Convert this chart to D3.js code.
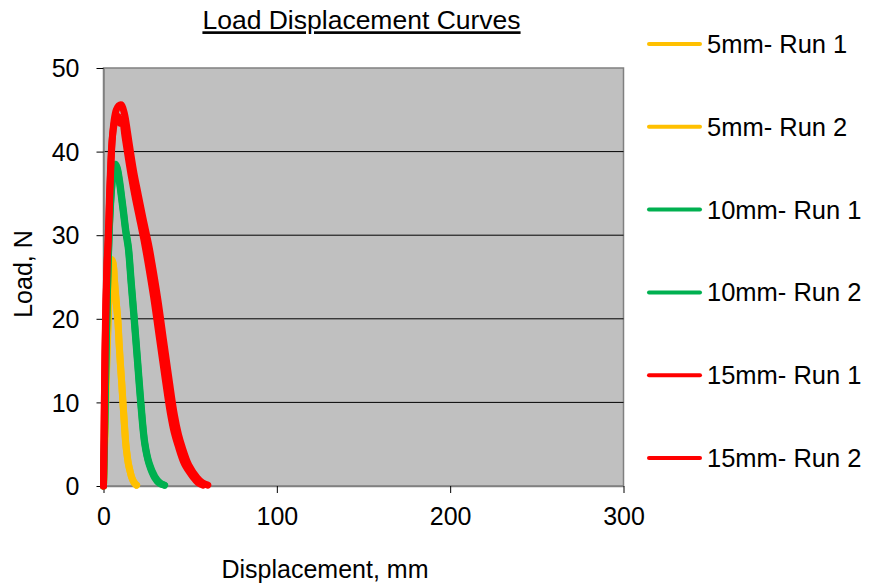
<!DOCTYPE html>
<html>
<head>
<meta charset="utf-8">
<script src="https://cdn.jsdelivr.net/npm/d3@7"></script>
<style>
  html, body { margin: 0; padding: 0; background: #fff; }
  svg text { font-family: "Liberation Sans", Arial, sans-serif; fill: #000; }
</style>
</head>
<body>
<svg id="chart" width="871" height="588"></svg>
<script>
// Load (N) against displacement (mm) for each specimen size and run
const disp5Run1 = [0, 1, 2, 3, 3.8, 4.6, 5.4, 6.3, 7.2, 8.2, 9, 9.7, 10.5, 11.2, 12, 12.8, 13.6, 14.3, 15.3, 16.2, 17.5, 19];
const load5Run1 = [0, 8, 16, 22, 25.5, 27.1, 26.8, 24.6, 22.3, 20, 17, 14.7, 12.3, 10, 7.5, 5.1, 3.7, 2.7, 1.8, 1.1, 0.5, 0.1];
const disp5Run2 = [0, 1, 2, 3, 3.9, 4.7, 5.5, 6.4, 7.3, 8.3, 9.1, 9.8, 10.6, 11.3, 12.1, 12.9, 13.7, 14.4, 15.4, 16.3, 17.6, 19.1];
const load5Run2 = [0, 7.5, 15.5, 21.5, 25.2, 26.9, 26.6, 24.4, 22.1, 19.8, 16.8, 14.5, 12.1, 9.8, 7.3, 5, 3.6, 2.6, 1.7, 1, 0.4, 0.1];

const disp10Run1 = [0, 0.8, 1.6, 2.6, 3.6, 4.8, 6, 7, 8, 9.3, 10.5, 11.6, 12.9, 14.4, 16, 17.8, 19.7, 21.6, 23.9, 26.4, 29.7, 32.5, 35.3];
const load10Run1 = [0, 8, 17, 26, 32, 36, 38.2, 38.5, 38, 36.5, 34.6, 32.8, 30.6, 28.6, 24.5, 20, 15, 10, 5.1, 2.7, 1.1, 0.4, 0.1];
const disp10Run2 = [0, 0.8, 1.6, 2.6, 3.6, 4.8, 6, 7, 8, 9.2, 10.4, 11.5, 12.8, 14.3, 15.9, 17.7, 19.6, 21.5, 23.8, 26.3, 29.5, 32.3, 35];
const load10Run2 = [0, 7.8, 16.8, 25.7, 31.7, 35.8, 38, 38.3, 37.8, 36.3, 34.4, 32.6, 30.4, 28.4, 24.3, 19.8, 14.8, 9.8, 5, 2.6, 1, 0.3, 0.1];

const disp15Run1 = [0, 0.4, 0.9, 1.5, 2.2, 2.9, 3.7, 4.4, 5.1, 6.1, 7.4, 8.8, 10.2, 12, 13.8, 15.7, 17.6, 20.1, 22.6, 26.3, 28, 31.3, 34.8, 38, 40.9, 43.2, 45.3, 49.2, 54, 57, 60.2];
const load15Run1 = [0, 8, 16, 22, 27, 30, 35.4, 39, 41.6, 43.7, 45, 45.5, 45.6, 44.6, 42.4, 39.8, 37.4, 34.8, 32.2, 28.6, 26.6, 22.4, 17.2, 12.5, 8.5, 6.2, 4.7, 2.5, 1, 0.4, 0.1];
const disp15Run2 = [0, 0.4, 0.8, 1.3, 2, 2.7, 3.5, 4.2, 4.9, 5.9, 7.1, 8.5, 9.6, 10.8, 12.4, 14.2, 16.1, 18.4, 20.8, 23.9, 25.6, 28.9, 32.4, 35.6, 38.5, 40.8, 42.9, 46.8, 51.6, 54.5, 57.5];
const load15Run2 = [0, 7.8, 15.6, 21.6, 26.6, 29.6, 35, 38.6, 41.2, 43, 44, 44.2, 43.4, 43.8, 41.8, 39.4, 37, 34.4, 32, 28.8, 26.8, 22.6, 17.5, 12.8, 8.8, 6.4, 4.9, 2.6, 1.1, 0.4, 0.1];

const seriesNames = ["5mm- Run 1", "5mm- Run 2", "10mm- Run 1", "10mm- Run 2", "15mm- Run 1", "15mm- Run 2"];
const seriesColors = ["#FFC000", "#FFC000", "#00B050", "#00B050", "#FF0000", "#FF0000"];
const seriesX = [disp5Run1, disp5Run2, disp10Run1, disp10Run2, disp15Run1, disp15Run2];
const seriesY = [load5Run1, load5Run2, load10Run1, load10Run2, load15Run1, load15Run2];

const xTicks = [0, 100, 200, 300];
const yTicks = [0, 10, 20, 30, 40, 50];

const chartTitle = "Load Displacement Curves";
const xTitle = "Displacement, mm";
const yTitle = "Load, N";

const svg = d3.select("#chart");
const plot = { left: 103.5, right: 623.5, top: 68, bottom: 486 };

const x = d3.scaleLinear().domain([0, 300]).range([plot.left, plot.right]);
const y = d3.scaleLinear().domain([0, 50]).range([plot.bottom, plot.top]);

// plot area
svg.append("rect")
  .attr("x", plot.left).attr("y", plot.top)
  .attr("width", plot.right - plot.left).attr("height", plot.bottom - plot.top)
  .attr("fill", "#C0C0C0").attr("stroke", "#808080").attr("stroke-width", 1.5);

// horizontal gridlines
svg.append("g").selectAll("line")
  .data(yTicks.filter(t => t > 0 && t < 50))
  .join("line")
  .attr("x1", plot.left).attr("x2", plot.right)
  .attr("y1", d => y(d)).attr("y2", d => y(d))
  .attr("stroke", "#000").attr("stroke-width", 1);

// axes
const xAxis = svg.append("g")
  .attr("transform", `translate(0,${plot.bottom})`)
  .call(d3.axisBottom(x).tickValues(xTicks).tickSize(7).tickPadding(14).tickSizeOuter(0));
const yAxis = svg.append("g")
  .attr("transform", `translate(${plot.left},0)`)
  .call(d3.axisLeft(y).tickValues(yTicks).tickSize(7).tickPadding(17).tickSizeOuter(0));

[xAxis, yAxis].forEach(g => {
  g.select(".domain").attr("stroke", "#808080").attr("stroke-width", 1.5);
  g.selectAll(".tick line").attr("stroke", "#000").attr("stroke-width", 1);
  g.selectAll(".tick text")
    .attr("font-family", "'Liberation Sans', Arial, sans-serif")
    .attr("font-size", 25).attr("fill", "#000");
});
yAxis.selectAll(".tick text").attr("dy", "0.35em");

// curves, drawn in series order so the 15mm runs sit on top
const line = d3.line()
  .x(d => x(d[0]))
  .y(d => y(d[1]))
  .curve(d3.curveCatmullRom.alpha(0.5));
const curves = svg.append("g");
seriesNames.forEach((name, i) => {
  const pts = seriesX[i].map((v, j) => [v, seriesY[i][j]]);
  curves.append("path")
    .datum(pts)
    .attr("d", line)
    .attr("fill", "none")
    .attr("stroke", seriesColors[i])
    .attr("stroke-width", 7)
    .attr("stroke-linejoin", "round")
    .attr("stroke-linecap", "round");
});

// title
svg.append("text")
  .attr("x", 361.5).attr("y", 29.3)
  .attr("text-anchor", "middle")
  .attr("font-size", 26.5)
  .attr("text-decoration", "underline")
  .text(chartTitle);

// axis titles
svg.append("text")
  .attr("x", 325).attr("y", 578)
  .attr("text-anchor", "middle")
  .attr("font-size", 25)
  .text(xTitle);
svg.append("text")
  .attr("transform", "translate(32,274) rotate(-90)")
  .attr("text-anchor", "middle")
  .attr("font-size", 25)
  .text(yTitle);

// legend
const legend = svg.append("g");
const legendY = d3.scalePoint().domain(seriesNames).range([44, 458]);
seriesNames.forEach((name, i) => {
  const ly = legendY(name);
  legend.append("line")
    .attr("x1", 649).attr("x2", 700)
    .attr("y1", ly).attr("y2", ly)
    .attr("stroke", seriesColors[i]).attr("stroke-width", 4)
    .attr("stroke-linecap", "round");
  legend.append("text")
    .attr("x", 707).attr("y", ly + 9)
    .attr("font-size", 25.5)
    .text(name);
});
</script>
</body>
</html>
